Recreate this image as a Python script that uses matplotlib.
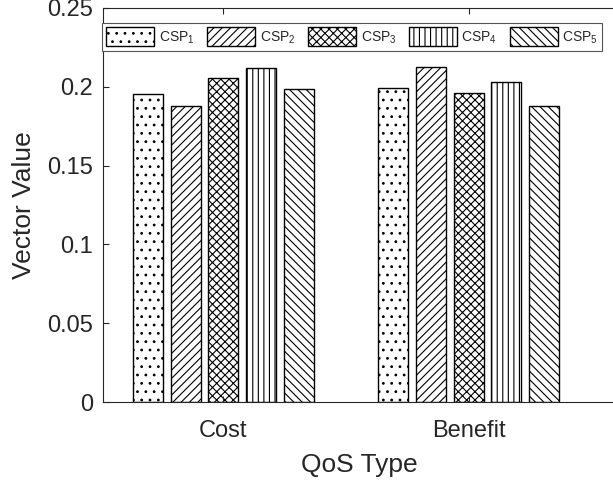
import numpy as np
import matplotlib
matplotlib.use("Agg")
import matplotlib.pyplot as plt

# data
qos_types = ["Cost", "Benefit"]
csp_names = ["CSP$_1$", "CSP$_2$", "CSP$_3$", "CSP$_4$", "CSP$_5$"]
csp1 = [0.1952, 0.1994]
csp2 = [0.1877, 0.2125]
csp3 = [0.2055, 0.1960]
csp4 = [0.2117, 0.2030]
csp5 = [0.1983, 0.1877]
series = [csp1, csp2, csp3, csp4, csp5]
y_ticks = [0, 0.05, 0.1, 0.15, 0.2, 0.25]

hatches = ["..", "////", "xxxx", "|||", "\\\\\\\\"]

plt.rcParams['font.family'] = ['Liberation Sans', 'DejaVu Sans']
plt.rcParams['mathtext.fontset'] = 'custom'
plt.rcParams['mathtext.rm'] = 'Liberation Sans'
plt.rcParams['mathtext.default'] = 'regular'
plt.rcParams['hatch.linewidth'] = 0.8
plt.rcParams['hatch.color'] = 'black'

txt = '#262626'

fig = plt.figure(figsize=(6.13, 4.86), dpi=100)
# right edge of the axes runs past the figure, like the cropped original
ax = fig.add_axes([103 / 613, 84 / 486, 513 / 613, 394 / 486])

x = np.arange(1, len(qos_types) + 1)
pitch = 0.1535
width = 0.122
for i, vals in enumerate(series):
    ax.bar(x + (i - 2) * pitch, vals, width, color='white', edgecolor='black',
           linewidth=1.0, hatch=hatches[i], label=csp_names[i])

ax.set_xlim(0.51, 2.6)
ax.set_ylim(0, 0.25)
ax.set_xticks(x)
ax.set_xticklabels(qos_types)
ax.set_yticks(y_ticks)
ax.set_yticklabels(['0', '0.05', '0.1', '0.15', '0.2', '0.25'])

ax.tick_params(axis='both', direction='in', length=4, width=0.8, colors=txt,
               labelsize=17, top=True)
ax.tick_params(axis='y', pad=7)
ax.tick_params(axis='x', pad=13)
for s in ax.spines.values():
    s.set_color(txt)
    s.set_linewidth(0.8)

ax.set_xlabel("QoS Type", fontsize=19, color=txt, labelpad=8)
ax.set_ylabel("Vector Value", fontsize=19, color=txt, labelpad=8)

leg = ax.legend(loc='upper left', bbox_to_anchor=(102 / 613, 1 - 23 / 486),
                bbox_transform=fig.transFigure, ncol=5, fontsize=10,
                handlelength=3.45, handleheight=1.75, handletextpad=0.35,
                columnspacing=0.9, borderpad=0.3, borderaxespad=0,
                fancybox=False, framealpha=1, edgecolor='#555555')
leg.get_frame().set_linewidth(0.8)
for t in leg.get_texts():
    t.set_color(txt)

fig.savefig("out.png", dpi=100)
